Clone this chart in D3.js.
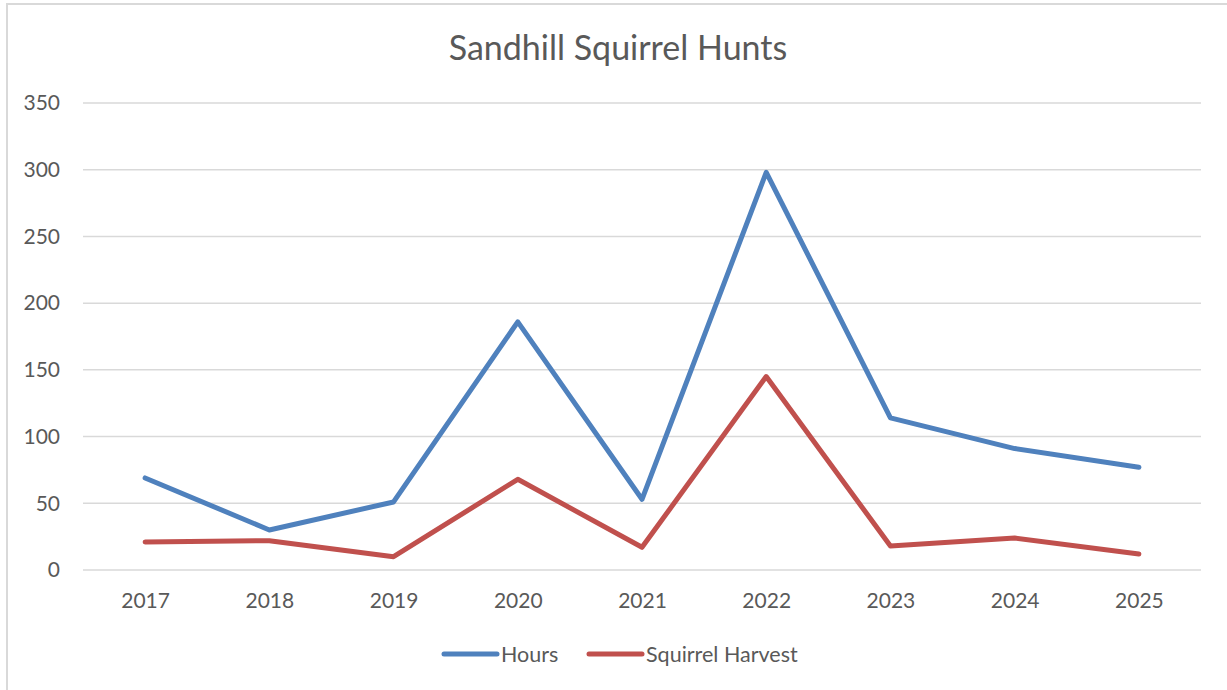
<!DOCTYPE html>
<html>
<head>
<meta charset="utf-8">
<script src="https://cdn.jsdelivr.net/npm/d3@7"></script>
<style>
  body { margin: 0; background: #fff; }
  svg { display: block; font-family: Lato, "Open Sans", sans-serif; }
</style>
</head>
<body>
<div id="wrapper"></div>
<script>
const years = ["2017", "2018", "2019", "2020", "2021", "2022", "2023", "2024", "2025"];
const hours = [69, 30, 51, 186, 53, 298, 114, 91, 77];
const harvest = [21, 22, 10, 68, 17, 145, 18, 24, 12];
const yTicks = [0, 50, 100, 150, 200, 250, 300, 350];

const seriesNames = ["Hours", "Squirrel Harvest"];
const seriesColors = ["#4F81BD", "#C0504D"];

const W = 1227, H = 690;
const margin = {top: 103, right: 26, bottom: 120, left: 83};
const width = W - margin.left - margin.right;
const height = H - margin.top - margin.bottom;

const svg = d3.select("#wrapper").append("svg")
  .attr("width", W)
  .attr("height", H);

// chart frame (only left and top edges visible)
svg.append("line").attr("x1", 7).attr("x2", 7).attr("y1", 3).attr("y2", H)
  .attr("stroke", "#d9d9d9").attr("stroke-width", 2);
svg.append("line").attr("x1", 6).attr("x2", W).attr("y1", 4).attr("y2", 4)
  .attr("stroke", "#d9d9d9").attr("stroke-width", 2);

svg.append("text")
  .attr("x", 618).attr("y", 60)
  .attr("text-anchor", "middle")
  .attr("font-size", 34)
  .attr("fill", "#595959")
  .text("Sandhill Squirrel Hunts");

const g = svg.append("g")
  .attr("transform", `translate(${margin.left},${margin.top})`);

const xScale = d3.scalePoint()
  .domain(years)
  .range([0, width])
  .padding(0.5);

const yScale = d3.scaleLinear()
  .domain([0, 350])
  .range([height, 0]);

// gridlines
g.append("g")
  .selectAll("line")
  .data(yTicks)
  .join("line")
  .attr("x1", 0).attr("x2", width)
  .attr("y1", d => yScale(d)).attr("y2", d => yScale(d))
  .attr("stroke", "#d9d9d9")
  .attr("stroke-width", 1.5);

const yAxis = d3.axisLeft(yScale).tickValues(yTicks).tickSize(0).tickPadding(23);
g.append("g")
  .attr("class", "y axis")
  .call(yAxis)
  .call(s => s.select(".domain").remove())
  .call(s => s.selectAll("text").attr("font-size", 21).attr("fill", "#595959")
    .attr("font-family", "Lato, 'Open Sans', sans-serif"));

const xAxis = d3.axisBottom(xScale).tickSize(0).tickPadding(23);
g.append("g")
  .attr("class", "x axis")
  .attr("transform", `translate(0, ${height})`)
  .call(xAxis)
  .call(s => s.select(".domain").remove())
  .call(s => s.selectAll("text").attr("font-size", 21).attr("fill", "#595959")
    .attr("font-family", "Lato, 'Open Sans', sans-serif"));

const line = d3.line()
  .x((d, i) => xScale(years[i]))
  .y(d => yScale(d));

[hours, harvest].forEach((vals, i) => {
  g.append("path")
    .datum(vals)
    .attr("d", line)
    .attr("fill", "none")
    .attr("stroke", seriesColors[i])
    .attr("stroke-width", 5)
    .attr("stroke-linejoin", "round")
    .attr("stroke-linecap", "round");
});

// legend
const legendX = [444, 589];
const legend = svg.append("g").attr("transform", "translate(0,654)");
seriesNames.forEach((name, i) => {
  legend.append("line")
    .attr("x1", legendX[i]).attr("x2", legendX[i] + 53)
    .attr("y1", 0).attr("y2", 0)
    .attr("stroke", seriesColors[i])
    .attr("stroke-width", 5)
    .attr("stroke-linecap", "round");
  legend.append("text")
    .attr("x", legendX[i] + 57).attr("y", 8)
    .attr("font-size", 21.5)
    .attr("fill", "#595959")
    .text(name);
});
</script>
</body>
</html>
